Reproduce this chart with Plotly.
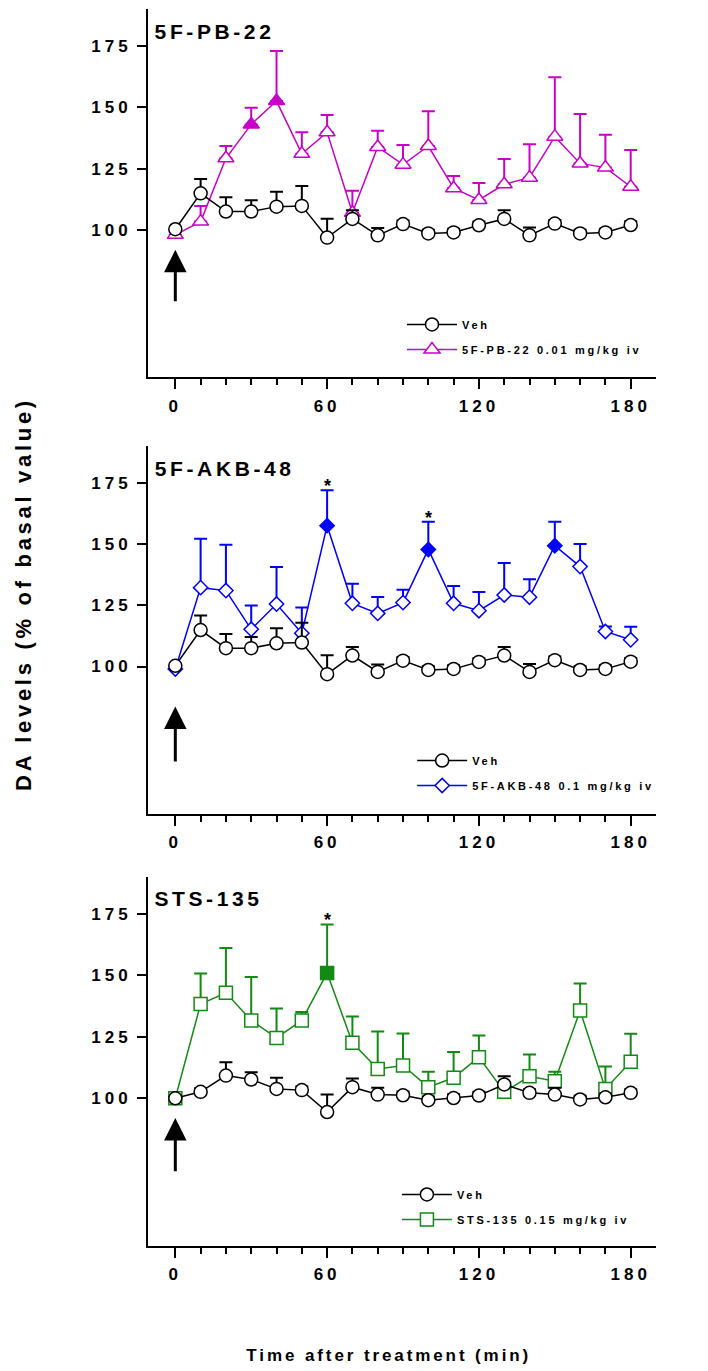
import plotly.graph_objects as go

# ---------------- data ----------------
time = [0, 10, 20, 30, 40, 50, 60, 70, 80, 90, 100, 110, 120, 130, 140, 150, 160, 170, 180]

# vehicle (panels 1 and 2)
veh_a_mean = [100.3, 114.9, 107.5, 107.5, 109.5, 109.8, 96.9, 104.5, 97.8, 102.4, 98.6, 99.0, 101.9, 104.5, 97.8, 102.6, 98.6, 99.0, 102.0]
veh_a_sem = [0, 5.9, 5.8, 4.6, 6.1, 8.1, 7.7, 3.5, 3.0, 1.5, 1.5, 1.5, 1.5, 3.5, 3.2, 1.5, 1.5, 1.5, 1.5]

# 5F-PB-22 0.01 mg/kg iv
pb22_mean = [98.0, 103.4, 129.2, 143.0, 152.5, 131.0, 139.8, 107.0, 133.8, 126.6, 134.2, 117.0, 112.2, 118.6, 121.3, 138.0, 127.1, 125.4, 117.6]
pb22_sem = [0, 6.4, 5.0, 6.8, 20.4, 8.8, 7.0, 9.0, 6.6, 8.0, 14.1, 5.0, 6.9, 10.3, 13.6, 24.2, 20.1, 13.4, 15.0]
pb22_sig = [30, 40]
pb22_star = []

# 5F-AKB-48 0.1 mg/kg iv
akb48_mean = [99.0, 132.2, 131.0, 115.2, 125.5, 113.6, 157.5, 125.8, 121.7, 126.1, 147.8, 125.8, 122.8, 129.2, 128.3, 149.3, 140.8, 114.3, 110.9]
akb48_sem = [0, 20.0, 18.7, 9.7, 15.1, 10.5, 14.5, 8.0, 6.7, 5.2, 11.3, 7.1, 7.6, 13.1, 7.3, 9.8, 9.2, 2.0, 5.3]
akb48_sig = [60, 100, 150]
akb48_star = [60, 100]

# vehicle (panel 3)
veh_b_mean = [100.0, 102.6, 109.2, 107.6, 103.8, 103.3, 94.4, 104.5, 101.5, 101.2, 99.2, 100.1, 101.1, 105.6, 102.2, 101.5, 99.5, 100.4, 102.2]
veh_b_sem = [0, 1.5, 5.4, 3.0, 4.5, 1.5, 7.1, 3.5, 2.8, 1.5, 1.5, 1.5, 1.5, 3.3, 1.5, 2.8, 1.5, 1.5, 1.5]

# STS-135 0.15 mg/kg iv
sts_mean = [100.0, 138.3, 142.8, 131.6, 124.5, 131.6, 150.9, 122.5, 111.9, 113.3, 104.5, 108.3, 116.7, 102.6, 108.9, 106.9, 135.6, 103.8, 114.8]
sts_sem = [0, 12.4, 18.2, 17.6, 11.9, 3.4, 19.7, 10.7, 15.2, 13.0, 6.3, 10.5, 8.8, 3.0, 8.9, 3.9, 11.0, 9.1, 11.4]
sts_sig = [60]
sts_star = [60]

y_ticks = [100, 125, 150, 175]
x_ticks = [0, 60, 120, 180]
x_minor = [10, 20, 30, 40, 50, 70, 80, 90, 100, 110, 130, 140, 150, 160, 170]

# ---------------- style ----------------
FONT = "Liberation Sans, Arial, Helvetica, sans-serif"
MAG = "#C800C8"
BLUE = "#0000FF"
GREEN = "#138A13"

panels = [
    dict(title="5F-PB-22", name="5F-PB-22 0.01 mg/kg iv", mean=pb22_mean, sem=pb22_sem,
         vmean=veh_a_mean, vsem=veh_a_sem, color=MAG, symbol="triangle-up", size=14,
         sig=pb22_sig, star=pb22_star, title_x=15.6, domain=[0.7023, 1.0],
         arrow=(91.9, 70.3), leg=(0.500, 0.7567)),
    dict(title="5F-AKB-48", name="5F-AKB-48 0.1 mg/kg iv", mean=akb48_mean, sem=akb48_sem,
         vmean=veh_a_mean, vsem=veh_a_sem, color=BLUE, symbol="diamond", size=11,
         sig=akb48_sig, star=akb48_star, title_x=19.7, domain=[0.3496, 0.6467],
         arrow=(83.7, 60.6), leg=(0.520, 0.4042)),
    dict(title="STS-135", name="STS-135 0.15 mg/kg iv", mean=sts_mean, sem=sts_sem,
         vmean=veh_b_mean, vsem=veh_b_sem, color=GREEN, symbol="square", size=13,
         sig=sts_sig, star=sts_star, title_x=13.3, domain=[0.0, 0.2986],
         arrow=(92.0, 69.7), leg=(0.490, 0.0534)),
]

fig = go.Figure()
annotations = []
layout_axes = {}

for i, p in enumerate(panels, start=1):
    sfx = "" if i == 1 else str(i)
    xa, ya, lg = "x" + sfx, "y" + sfx, "legend" + sfx
    fill = [p["color"] if t in p["sig"] else "white" for t in time]
    fig.add_trace(go.Scatter(
        x=time, y=p["mean"], mode="lines+markers", name=p["name"],
        xaxis=xa, yaxis=ya, legend=lg, legendgroup="d%d" % i, legendrank=2,
        line=dict(color=p["color"], width=1.5),
        marker=dict(symbol=p["symbol"], size=p["size"], color=fill,
                    line=dict(color=p["color"], width=1.5)),
        error_y=dict(type="data", symmetric=False, array=p["sem"],
                     arrayminus=[0] * len(time), color=p["color"],
                     thickness=2, width=6.5),
        cliponaxis=False,
    ))
    fig.add_trace(go.Scatter(
        x=time, y=p["vmean"], mode="lines+markers", name="Veh",
        xaxis=xa, yaxis=ya, legend=lg, legendgroup="v%d" % i, legendrank=1,
        line=dict(color="black", width=1.5),
        marker=dict(symbol="circle", size=13, color="white",
                    line=dict(color="black", width=1.5)),
        error_y=dict(type="data", symmetric=False, array=p["vsem"],
                     arrayminus=[0] * len(time), color="black",
                     thickness=2, width=6.5),
        cliponaxis=False,
    ))

    layout_axes["xaxis" + sfx] = dict(
        domain=[0, 1], anchor=ya, range=[-10.8, 190],
        showline=True, linecolor="black", linewidth=2,
        showgrid=False, zeroline=False,
        tickmode="array", tickvals=x_ticks, ticks="outside", ticklen=10,
        tickwidth=2, tickcolor="black",
        minor=dict(tickmode="array", tickvals=x_minor, ticks="outside",
                   ticklen=6, tickwidth=2, tickcolor="black", showgrid=False),
        tickfont=dict(family=FONT, size=17, color="black", weight="bold"),
        ticklabelstandoff=2,
    )
    layout_axes["yaxis" + sfx] = dict(
        domain=p["domain"], anchor=xa, range=[40, 190],
        showline=True, linecolor="black", linewidth=2,
        showgrid=False, zeroline=False,
        tickmode="array", tickvals=y_ticks, ticks="outside", ticklen=9,
        tickwidth=2, tickcolor="black",
        tickfont=dict(family=FONT, size=17, color="black", weight="bold"),
        ticklabelstandoff=2,
    )
    layout_axes[lg] = dict(
        x=p["leg"][0], y=p["leg"][1], xref="paper", yref="paper",
        xanchor="left", yanchor="top", bgcolor="rgba(0,0,0,0)",
        traceorder="grouped", tracegroupgap=6, itemwidth=50,
        font=dict(family=FONT, size=11, color="black", weight="bold"),
    )

    # panel title
    annotations.append(dict(
        x=p["title_x"], y=181, xref=xa, yref=ya, text=p["title"], showarrow=False,
        xanchor="center", yanchor="middle",
        font=dict(family=FONT, size=21, color="black", weight="bold")))
    # injection arrow
    annotations.append(dict(
        x=0, y=p["arrow"][0], ax=0, ay=p["arrow"][1], xref=xa, yref=ya,
        axref=xa, ayref=ya, text="", showarrow=True, arrowhead=2,
        arrowsize=1.5, arrowwidth=3, arrowcolor="black"))
    # significance stars
    for t in p["star"]:
        k = time.index(t)
        annotations.append(dict(
            x=t, y=p["mean"][k] + p["sem"][k], xref=xa, yref=ya, text="*",
            showarrow=False, xanchor="center", yanchor="bottom", yshift=-8,
            font=dict(family=FONT, size=18, color="black", weight="bold")))

annotations.append(dict(
    x=-0.246, y=0.527, xref="paper", yref="paper",
    text="DA levels (% of basal value)", textangle=-90, showarrow=False,
    xanchor="center", yanchor="middle",
    font=dict(family=FONT, size=22, color="black", weight="bold")))
annotations.append(dict(
    x=0.474, y=-0.0889, xref="paper", yref="paper",
    text="Time after treatment (min)", showarrow=False,
    xanchor="center", yanchor="middle",
    font=dict(family=FONT, size=17, color="black", weight="bold")))

fig.update_layout(
    width=708, height=1371,
    margin=dict(l=148, r=52, t=9, b=125),
    paper_bgcolor="white", plot_bgcolor="white",
    showlegend=True,
    annotations=annotations,
    **layout_axes,
)

post = """
var gd = document.getElementById('{plot_id}');
function applySpacing(){
  gd.querySelectorAll('text').forEach(function(t){
    var cls = t.getAttribute('class') || '';
    if (t.closest('.xaxislayer-above, .yaxislayer-above')) {
      t.style.letterSpacing = '4px';
    } else if (cls.indexOf('legendtext') >= 0 || t.closest('[class^="legend"]')) {
      t.style.letterSpacing = '2.7px';
    } else if (cls.indexOf('annotation-text') >= 0) {
      var fs = parseFloat(t.style.fontSize) || 14;
      if (t.textContent.length > 1) { t.style.letterSpacing = (0.17*fs).toFixed(1) + 'px'; }
    }
  });
  gd.querySelectorAll('[class^="legend"] .scrollbox, [class^="legend"]').forEach(function(s){ s.removeAttribute('clip-path'); });
}
applySpacing();
gd.on('plotly_afterplot', applySpacing);
[50, 200, 600, 1500].forEach(function(ms){ setTimeout(applySpacing, ms); });
var obs = new MutationObserver(function(){ applySpacing(); });
obs.observe(gd, {childList: true, subtree: true});
"""

fig.write_html("out.html", post_script=post)
